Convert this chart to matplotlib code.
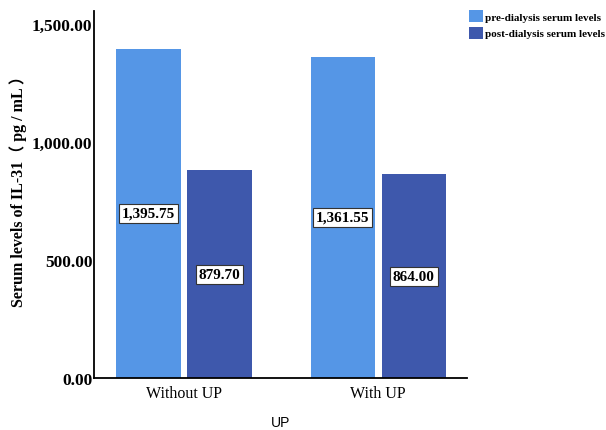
import numpy as np
import matplotlib.pyplot as plt

groups = ["Without UP", "With UP"]
pre = [1395.75, 1361.55]
post = [879.70, 864.00]
series_names = ["pre-dialysis serum levels", "post-dialysis serum levels"]
colors = ["#5596E6", "#3E58AC"]

serif = "Liberation Serif"

fig = plt.figure(figsize=(6.06, 4.31), dpi=100)
ax = fig.add_axes([0.155, 0.1206, 0.616, 0.8514])

x = np.arange(len(groups))
w = 0.33
gap = 0.036
offs = [-(w + gap) / 2, (w + gap) / 2]
for vals, off, c, name in zip([pre, post], offs, colors, series_names):
    bars = ax.bar(x + off, vals, width=w, color=c, label=name)
    for b, v in zip(bars, vals):
        ax.text(b.get_x() + b.get_width() / 2, v / 2, f"{v:,.2f}",
                ha="center", va="center", fontsize=11, fontweight="bold",
                family=serif,
                bbox=dict(boxstyle="square,pad=0.2", fc="white", ec="#333333", lw=0.8))

ax.set_xlim(-0.464, 1.459)
ax.set_ylim(0, 1555)
ax.set_yticks([0, 500, 1000, 1500])
ax.set_yticklabels([f"{t:,.2f}" for t in [0, 500, 1000, 1500]],
                   fontsize=12.5, fontweight="bold", family=serif)
ax.set_xticks(x)
ax.set_xticklabels(groups, fontsize=11.5, family=serif)
ax.tick_params(axis="y", length=0, pad=1)
ax.tick_params(axis="x", length=0, pad=5)
for s in ["top", "right"]:
    ax.spines[s].set_visible(False)
ax.spines["left"].set_linewidth(1.3)
ax.spines["bottom"].set_linewidth(1.3)

ax.set_ylabel("Serum levels of IL-31\uff08 pg / mL \uff09", fontsize=11.5,
              fontweight="bold", family=[serif, "Noto Sans CJK SC"])
ax.yaxis.set_label_coords(-0.204, 0.523)
ax.yaxis.label.set_va("center")
ax.set_xlabel("UP", fontsize=10, family="Liberation Sans")
ax.xaxis.set_label_coords(0.5, -0.12)
ax.xaxis.label.set_va("center")

fig.legend(loc="upper left", bbox_to_anchor=(469 / 606, 1 - 11 / 431),
           frameon=False, prop=dict(family=serif, size=8, weight="bold"),
           handlelength=1.25, handleheight=1.25, handletextpad=0.2,
           labelspacing=0.45, borderaxespad=0, borderpad=0)

fig.savefig("out.png", dpi=100)
